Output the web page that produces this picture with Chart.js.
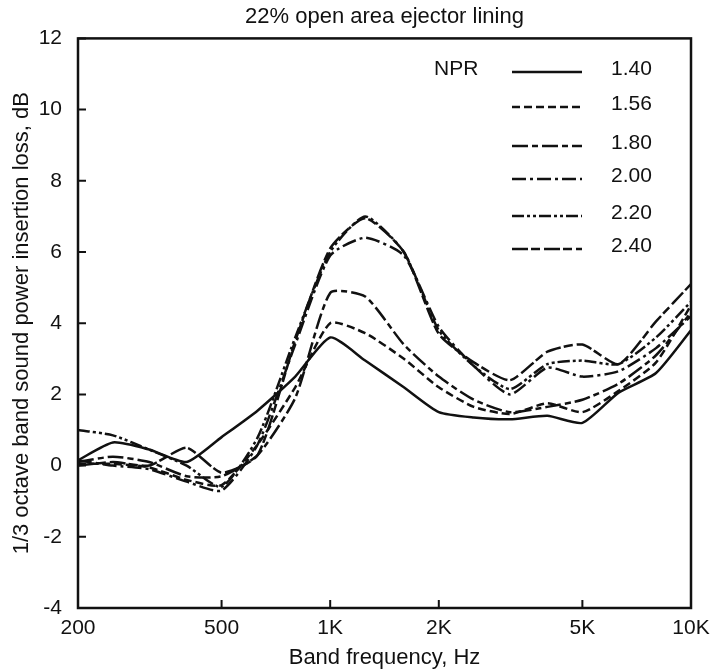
<!DOCTYPE html>
<html>
<head>
<meta charset="utf-8">
<script src="https://cdn.jsdelivr.net/npm/chart.js@4.4.1/dist/chart.umd.min.js"></script>
<style>
    html, body { margin: 0; padding: 0; background: #fff; }
</style>
</head>
<body>
<canvas id="npr-canvas" width="715" height="672"></canvas>
<script>
// ========== Data
let bandFreqs = [200, 250, 315, 400, 500, 630, 800, 1000, 1250, 1600, 2000, 2500, 3150, 4000, 5000, 6300, 8000, 10000];
let nprLabels = ['1.40', '1.56', '1.80', '2.00', '2.20', '2.40'];

let npr140 = [0.15, 0.65, 0.45, 0.1, 0.8, 1.55, 2.5, 3.6, 2.95, 2.2, 1.5, 1.35, 1.3, 1.4, 1.2, 2.05, 2.6, 3.8];
let npr156 = [0.05, 0.05, -0.05, -0.4, -0.55, 0.6, 2.2, 4.0, 3.72, 3.0, 2.2, 1.65, 1.45, 1.75, 1.5, 2.1, 2.9, 4.5];
let npr180 = [0.1, 0.25, 0.1, -0.3, -0.3, 0.3, 1.9, 4.85, 4.75, 3.4, 2.5, 1.85, 1.5, 1.65, 1.85, 2.3, 3.1, 4.3];
let npr200 = [0.15, 0.0, -0.1, -0.45, -0.7, 0.6, 3.4, 5.9, 6.4, 5.9, 3.9, 2.8, 2.0, 2.75, 2.5, 2.65, 3.3, 4.2];
let npr220 = [1.0, 0.85, 0.45, 0.0, -0.6, 0.8, 3.6, 6.0, 7.0, 6.0, 3.8, 2.8, 2.15, 2.85, 2.95, 2.85, 3.6, 4.6];
let npr240 = [0.0, 0.1, 0.0, 0.5, -0.2, 0.3, 3.5, 6.1, 6.95, 6.0, 3.7, 2.9, 2.4, 3.2, 3.4, 2.85, 4.05, 5.1];

let xTickValues = [200, 500, 1000, 2000, 5000, 10000];
let xTickLabels = ['200', '500', '1K', '2K', '5K', '10K'];

// ========== Styles
let lineColor = '#111111';
let fontFamily = '"Liberation Sans", Arial, Helvetica, sans-serif';
let dashList = [[], [8, 4], [16, 4, 6, 4], [14, 4, 3, 4], [12, 3, 3, 3, 3, 3], [16, 3, 9, 4]];

Chart.defaults.font.family = fontFamily;
Chart.defaults.color = lineColor;

function toPoints(values) {
    return bandFreqs.map((f, i) => ({ x: f, y: values[i] }));
}

// @ ========== Legend (NPR) drawn inside the plot
const nprLegend = {
    id: 'nprLegend',
    afterDatasetsDraw(chart) {
        const ctx = chart.ctx;
        const rowY = [72, 107, 146, 179, 216, 249];
        ctx.save();
        ctx.font = '21px ' + fontFamily;
        ctx.fillStyle = lineColor;
        ctx.strokeStyle = lineColor;
        ctx.textBaseline = 'middle';
        ctx.textAlign = 'left';
        ctx.fillText('NPR', 434, 69);
        chart.data.datasets.forEach((ds, i) => {
            ctx.lineWidth = 2.5;
            ctx.setLineDash(ds.borderDash || []);
            ctx.beginPath();
            ctx.moveTo(512, rowY[i]);
            ctx.lineTo(582, rowY[i]);
            ctx.stroke();
            ctx.setLineDash([]);
            ctx.fillText(ds.label, 611, rowY[i] - 3);
        });
        ctx.restore();
    }
};

// @ ========== Box around the plot area + inward tick marks
const plotFrame = {
    id: 'plotFrame',
    afterDatasetsDraw(chart) {
        const { ctx, chartArea, scales } = chart;
        ctx.save();
        ctx.strokeStyle = lineColor;
        ctx.lineWidth = 2;
        ctx.beginPath();
        scales.y.ticks.forEach(t => {
            const py = scales.y.getPixelForValue(t.value);
            ctx.moveTo(chartArea.left, py);
            ctx.lineTo(chartArea.left + 8, py);
        });
        scales.x.ticks.forEach(t => {
            const px = scales.x.getPixelForValue(t.value);
            ctx.moveTo(px, chartArea.bottom);
            ctx.lineTo(px, chartArea.bottom - 8);
        });
        ctx.stroke();
        ctx.lineWidth = 2.5;
        ctx.strokeRect(chartArea.left, chartArea.top, chartArea.right - chartArea.left, chartArea.bottom - chartArea.top);
        ctx.restore();
    }
};

function renderInsertionLossChart() {
    var canvas = document.getElementById('npr-canvas');
    var seriesList = [npr140, npr156, npr180, npr200, npr220, npr240];
    var lossChart = new Chart(canvas, {
        type: 'line',
        data: {
            datasets: seriesList.map((values, i) => ({
                label: nprLabels[i],
                data: toPoints(values),
                borderColor: lineColor,
                borderWidth: 2.5,
                borderDash: dashList[i],
                pointRadius: 0,
                tension: 0.2,
                fill: false
            }))
        },
        options: {
            responsive: false,
            animation: false,
            devicePixelRatio: 1,
            layout: { padding: { left: 0, right: 24, top: 0, bottom: 0 } },
            plugins: {
                legend: { display: false },
                tooltip: { enabled: false },
                title: {
                    display: true,
                    text: '22% open area ejector lining',
                    fullSize: false,
                    color: lineColor,
                    font: { size: 22, weight: 'normal' },
                    padding: { top: 4, bottom: 8 }
                }
            },
            scales: {
                x: {
                    type: 'logarithmic',
                    min: 200,
                    max: 10000,
                    afterBuildTicks: (scale) => {
                        scale.ticks = xTickValues.map(v => ({ value: v }));
                    },
                    afterFit: (scale) => {
                        scale.height = 64;
                        scale.paddingLeft = 0;
                        scale.paddingRight = 0;
                    },
                    ticks: {
                        autoSkip: false,
                        maxRotation: 0,
                        font: { size: 21 },
                        color: lineColor,
                        padding: 8,
                        callback: (value) => xTickLabels[xTickValues.indexOf(value)]
                    },
                    grid: { drawOnChartArea: false, drawTicks: false },
                    border: { display: false },
                    title: {
                        display: true,
                        text: 'Band frequency, Hz',
                        font: { size: 22 },
                        color: lineColor,
                        padding: { top: 0, bottom: 1 }
                    }
                },
                y: {
                    min: -4,
                    max: 12,
                    afterFit: (scale) => {
                        scale.width = 78;
                        scale.paddingTop = 0;
                        scale.paddingBottom = 0;
                    },
                    ticks: {
                        stepSize: 2,
                        font: { size: 21 },
                        color: lineColor,
                        padding: 16
                    },
                    grid: { drawOnChartArea: false, drawTicks: false },
                    border: { display: false },
                    title: {
                        display: true,
                        text: '1/3 octave band sound power insertion loss, dB',
                        font: { size: 22 },
                        color: lineColor,
                        padding: { top: 9, bottom: 0 }
                    }
                }
            }
        },
        plugins: [plotFrame, nprLegend]
    });
    return lossChart;
}

renderInsertionLossChart();
</script>
</body>
</html>
